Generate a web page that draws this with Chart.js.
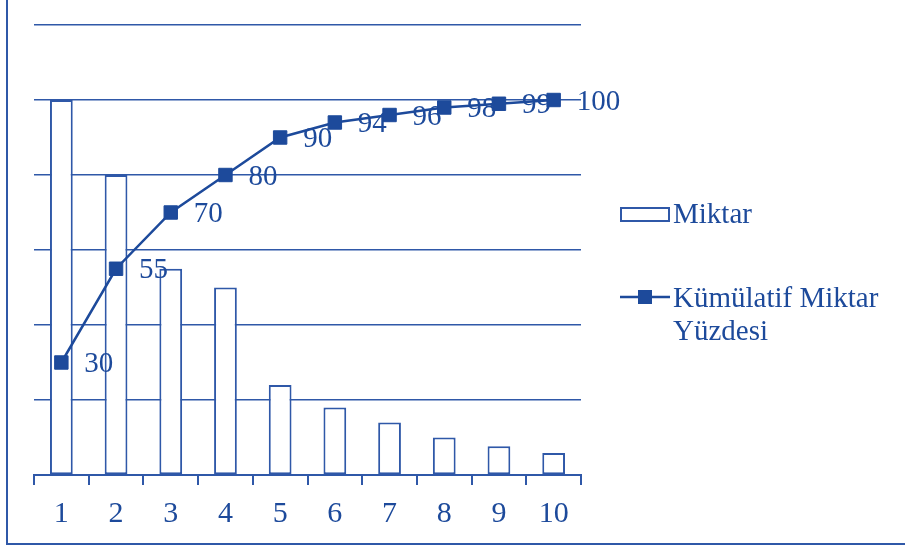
<!DOCTYPE html>
<html lang="tr">
<head>
  <meta charset="UTF-8" />
  <title>Pareto</title>
  <script src="https://cdn.jsdelivr.net/npm/chart.js"></script>
  <style>
    body { margin: 0; background: #fff; }
  </style>
</head>
<body>
  <canvas id="pareto-chart" width="905" height="546"></canvas>

  <script>
    const categories = ['1', '2', '3', '4', '5', '6', '7', '8', '9', '10'];
    const miktar = [100, 80, 55, 50, 24, 18, 14, 10, 7.7, 5.9];
    const kumulatif = [30, 55, 70, 80, 90, 94, 96, 98, 99, 100];
    const legendLabels = ['Miktar', ['Kümülatif Miktar', 'Yüzdesi']];

    const BLUE = '#2f58a8';
    const DARK = '#1d4a9b';
    const SERIF = '"Liberation Serif", "Times New Roman", serif';

    // frame lines (left + bottom) like the original figure
    const framePlugin = {
      id: 'frame',
      beforeDraw(chart) {
        const c = chart.ctx;
        c.save();
        c.strokeStyle = BLUE;
        c.lineWidth = 2;
        c.beginPath();
        c.moveTo(7, 0);
        c.lineTo(7, 544);
        c.lineTo(905, 544);
        c.stroke();
        c.restore();
      }
    };

    // value labels next to the cumulative points
    const valueLabels = {
      id: 'valueLabels',
      afterDatasetsDraw(chart) {
        const meta = chart.getDatasetMeta(1);
        const c = chart.ctx;
        c.save();
        c.font = '29px ' + SERIF;
        c.fillStyle = DARK;
        c.textAlign = 'left';
        c.textBaseline = 'middle';
        meta.data.forEach((pt, i) => {
          c.fillText(String(kumulatif[i]), pt.x + 23, pt.y + 2);
        });
        c.restore();
      }
    };

    // legend on the right, second entry wraps to two lines
    const sideLegend = {
      id: 'sideLegend',
      afterDraw(chart) {
        const c = chart.ctx;
        c.save();
        c.font = '29px ' + SERIF;
        c.textAlign = 'left';
        c.textBaseline = 'middle';

        // bar entry
        c.fillStyle = '#fff';
        c.fillRect(621, 208, 48, 13);
        c.strokeStyle = BLUE;
        c.lineWidth = 2;
        c.strokeRect(621, 208, 48, 13);
        c.fillStyle = DARK;
        c.fillText(legendLabels[0], 673, 215);

        // line entry
        c.strokeStyle = DARK;
        c.lineWidth = 2.5;
        c.beginPath();
        c.moveTo(620, 297);
        c.lineTo(670, 297);
        c.stroke();
        c.fillRect(638, 290, 14, 14);
        c.fillText(legendLabels[1][0], 673, 299);
        c.fillText(legendLabels[1][1], 673, 332);
        c.restore();
      }
    };

    const ctx = document.getElementById('pareto-chart').getContext('2d');

    new Chart(ctx, {
      data: {
        labels: categories,
        datasets: [
          {
            type: 'bar',
            label: 'Miktar',
            data: miktar,
            backgroundColor: '#fff',
            borderColor: BLUE,
            borderWidth: 2,
            borderSkipped: false,
            barPercentage: 0.8,
            categoryPercentage: 0.52,
            order: 1
          },
          {
            type: 'line',
            label: 'Kümülatif Miktar Yüzdesi',
            data: kumulatif,
            borderColor: DARK,
            backgroundColor: DARK,
            borderWidth: 2.5,
            pointStyle: 'rect',
            pointRadius: 9.5,
            pointBorderWidth: 1,
            tension: 0,
            order: 0
          }
        ]
      },
      options: {
        responsive: false,
        animation: false,
        layout: { padding: { left: 34, right: 324, top: 25, bottom: 0 } },
        plugins: {
          legend: { display: false },
          tooltip: { enabled: false }
        },
        scales: {
          x: {
            offset: true,
            grid: {
              offset: true,
              drawOnChartArea: false,
              drawTicks: true,
              tickLength: 10,
              color: BLUE,
              lineWidth: 2
            },
            border: { display: true, color: BLUE, width: 2 },
            ticks: {
              color: DARK,
              font: { family: SERIF, size: 30 },
              padding: 11,
              maxRotation: 0
            },
            afterFit(scale) { scale.height = 71; }
          },
          y: {
            min: 0,
            max: 120,
            ticks: { display: false, stepSize: 20 },
            grid: { color: BLUE, lineWidth: 1.5, drawTicks: false },
            border: { display: false },
            afterFit(scale) { scale.width = 0; }
          }
        }
      },
      plugins: [framePlugin, valueLabels, sideLegend]
    });
  </script>
</body>
</html>
